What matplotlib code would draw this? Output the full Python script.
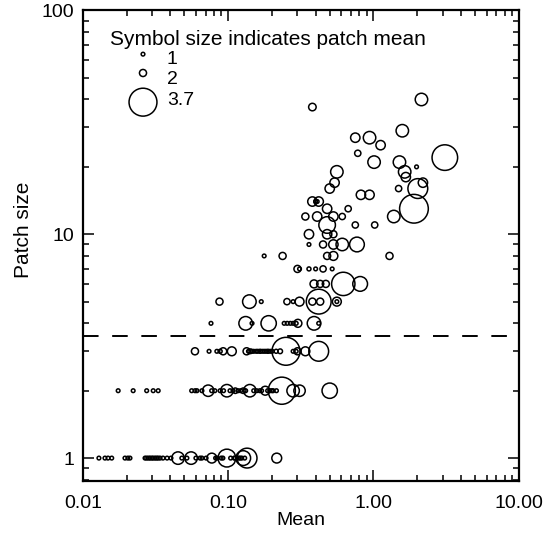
import matplotlib
matplotlib.use("Agg")
import matplotlib.pyplot as plt
import numpy as np
from matplotlib.ticker import FixedLocator, FuncFormatter, LogLocator, NullFormatter

plt.rcParams["font.family"] = ["Liberation Sans", "DejaVu Sans"]

# ---- data: x = mean, y = patch size, m = patch mean (symbol size) ----
# patch size 1
x_1 = [0.0129, 0.0142, 0.0149, 0.0158, 0.0195, 0.0204, 0.0211, 0.0268, 0.0275, 0.0283,
       0.029, 0.0298, 0.0305, 0.0314, 0.0322, 0.033, 0.034, 0.0356, 0.038, 0.0404,
       0.0452, 0.048, 0.052, 0.0556, 0.06, 0.0641, 0.066, 0.0705, 0.0772, 0.082,
       0.0838, 0.0895, 0.092, 0.098, 0.104, 0.11, 0.112, 0.118, 0.121, 0.124,
       0.127, 0.13, 0.135, 0.216]
m_1 = [1.25, 1.25, 1.25, 1.25, 1.25, 1.25, 1.25, 1.25, 1.25, 1.25,
       1.25, 1.25, 1.25, 1.25, 1.25, 1.25, 1.25, 1.25, 1.25, 1.25,
       2.55, 1.25, 1.25, 2.55, 1.25, 1.25, 1.25, 1.25, 2.3, 1.25,
       1.25, 1.25, 1.25, 3.0, 1.25, 1.25, 1.25, 1.25, 1.25, 1.25,
       2.75, 1.25, 3.15, 2.3]

# patch size 2
x_2 = [0.0175, 0.0222, 0.0275, 0.0305, 0.033, 0.0561, 0.0592, 0.061, 0.066, 0.0729,
       0.077, 0.081, 0.088, 0.093, 0.098, 0.103, 0.108, 0.112, 0.117, 0.122,
       0.127, 0.132, 0.141, 0.15, 0.157, 0.165, 0.17, 0.18, 0.187, 0.194,
       0.2, 0.204, 0.215, 0.234, 0.28, 0.31, 0.50]
m_2 = [1.3, 1.3, 1.3, 1.3, 1.3, 1.3, 1.3, 1.3, 1.3, 2.45,
       1.3, 1.3, 1.3, 1.3, 2.55, 1.3, 1.3, 1.8, 1.3, 1.3,
       1.8, 1.3, 2.55, 1.3, 1.3, 1.3, 1.3, 2.2, 1.3, 1.3,
       1.3, 1.3, 1.3, 3.65, 2.55, 2.45, 2.8]

# patch size 3
x_3 = [0.0591, 0.0739, 0.0836, 0.0881, 0.0924, 0.106, 0.134, 0.138, 0.142, 0.146,
       0.15, 0.156, 0.16, 0.166, 0.172, 0.177, 0.182, 0.188, 0.195, 0.201,
       0.214, 0.228, 0.25, 0.28, 0.294, 0.30, 0.34, 0.42]
m_3 = [2.0, 1.3, 1.5, 1.6, 2.0, 2.2, 2.0, 1.5, 1.7, 1.5,
       1.4, 1.5, 1.4, 1.6, 1.5, 1.5, 1.4, 1.6, 1.5, 1.5,
       1.6, 1.7, 3.7, 1.4, 1.4, 2.0, 2.2, 3.15]

# patch size 4
x_4 = [0.0762, 0.132, 0.146, 0.19, 0.243, 0.255, 0.268, 0.28, 0.294, 0.302, 0.39, 0.42]
m_4 = [1.35, 2.65, 1.35, 2.8, 1.35, 1.35, 1.4, 1.35, 1.35, 2.1, 2.65, 1.4]

# patch size 5
x_5 = [0.0872, 0.14, 0.169, 0.254, 0.28, 0.31, 0.38, 0.42, 0.43, 0.56, 0.56]
m_5 = [2.0, 2.65, 1.4, 1.9, 1.5, 2.2, 2.0, 3.5, 2.0, 2.2, 1.5]

# patch size 6 to 9
x_6 = [0.39, 0.43, 0.47, 0.62, 0.81]
m_6 = [2.1, 2.0, 2.0, 3.4, 2.75]
x_7 = [0.30, 0.31, 0.36, 0.40, 0.45, 0.52]
m_7 = [2.0, 1.5, 1.6, 1.5, 1.9, 1.4]
x_8 = [0.177, 0.237, 0.48, 0.53, 1.29]
m_8 = [1.4, 2.0, 2.0, 2.2, 2.0]
x_9 = [0.36, 0.45, 0.53, 0.61, 0.77]
m_9 = [1.5, 2.0, 2.25, 2.55, 2.75]

# larger patches (x, size, patch mean)
x_big = [0.36, 0.48, 0.53, 0.48, 0.75, 1.02, 0.34, 0.41, 0.53, 0.61,
         1.38, 0.48, 0.67, 1.9, 0.42, 0.38, 0.40, 0.41, 0.82, 0.94,
         0.50, 1.49, 2.02, 0.54, 2.19, 1.67, 0.56, 1.64, 1.98, 1.01,
         1.51, 3.1, 0.78, 1.12, 0.75, 0.94, 1.58, 0.38, 2.14]
y_big = [10, 10, 10, 11, 11, 11, 12, 12, 12, 12,
         12, 13, 13, 13, 14, 14, 14, 14, 15, 15,
         16, 16, 16, 17, 17, 18, 19, 19, 20, 21,
         21, 22, 23, 25, 27, 27, 29, 37, 40]
m_big = [2.25, 2.25, 2.0, 2.9, 1.9, 1.9, 2.0, 2.25, 2.25, 1.9,
         2.55, 2.25, 1.9, 3.75, 2.25, 2.25, 1.5, 1.5, 2.25, 2.25,
         2.25, 1.9, 3.15, 2.25, 2.25, 2.25, 2.55, 2.55, 1.5, 2.55,
         2.55, 3.55, 1.9, 2.25, 2.25, 2.55, 2.55, 2.05, 2.55]

legend_means = [1, 2, 3.7]
threshold = 3.5

rows = [(x_1, 1, m_1), (x_2, 2, m_2), (x_3, 3, m_3), (x_4, 4, m_4), (x_5, 5, m_5),
        (x_6, 6, m_6), (x_7, 7, m_7), (x_8, 8, m_8), (x_9, 9, m_9)]
xs, ys, ms = [], [], []
for xr, yr, mr in rows:
    xs += xr
    ys += [yr] * len(xr)
    ms += mr
xs += x_big
ys += y_big
ms += m_big
xs, ys, ms = np.array(xs), np.array(ys, float), np.array(ms)

LW = 1.1  # pt


def sym_size(m):
    # outer diameter in px grows ~ mean^2, with a floor so rings stay visible
    d_px = np.maximum(5.2, 2.15 * np.asarray(m, float) ** 2)
    d_pt = (d_px - LW / 0.72) * 0.72
    return np.maximum(d_pt, 1.0) ** 2


fig = plt.figure(figsize=(5.56, 5.36), dpi=100)
ax = fig.add_axes([0.149, 0.1026, 0.784, 0.878])

ax.scatter(xs, ys, s=sym_size(ms), facecolors="none", edgecolors="black",
           linewidths=LW, zorder=3)
ax.axhline(threshold, color="black", lw=1.4, ls=(0, (8, 7)), zorder=2)

ax.set_xscale("log")
ax.set_yscale("log")
ax.set_xlim(0.01, 10)
ax.set_ylim(0.79, 100)

ax.xaxis.set_major_locator(FixedLocator([0.01, 0.1, 1, 10]))
ax.xaxis.set_major_formatter(FuncFormatter(lambda v, _: f"{v:.2f}"))
ax.yaxis.set_major_locator(FixedLocator([1, 10, 100]))
ax.yaxis.set_major_formatter(FuncFormatter(lambda v, _: f"{v:g}"))
for a in (ax.xaxis, ax.yaxis):
    a.set_minor_locator(LogLocator(base=10, subs=np.arange(2, 10)))
    a.set_minor_formatter(NullFormatter())

ax.tick_params(which="both", direction="in", top=True, right=True,
               width=1.1, labelsize=14)
ax.tick_params(axis="x", pad=10)
ax.tick_params(axis="y", pad=6)
ax.tick_params(which="major", length=8)
ax.tick_params(which="minor", length=4)
for s in ax.spines.values():
    s.set_linewidth(1.6)

ax.set_xlabel("Mean", fontsize=14, labelpad=0)
ax.set_ylabel("Patch size", fontsize=15)
ax.yaxis.set_label_coords(-0.115, 0.533)

# size key
ax.text(0.062, 0.938, "Symbol size indicates patch mean", transform=ax.transAxes,
        fontsize=15, ha="left", va="center")
key_y = [0.907, 0.867, 0.805]
lab_y = [0.895, 0.853, 0.808]
ax.scatter([0.138] * 3, key_y, s=sym_size(legend_means), facecolors="none",
           edgecolors="black", linewidths=LW, transform=ax.transAxes, clip_on=False)
for m, ly in zip(legend_means, lab_y):
    ax.text(0.193, ly, f"{m:g}", transform=ax.transAxes, fontsize=14,
            ha="left", va="center")

fig.savefig("out.png", dpi=100, facecolor="white")
